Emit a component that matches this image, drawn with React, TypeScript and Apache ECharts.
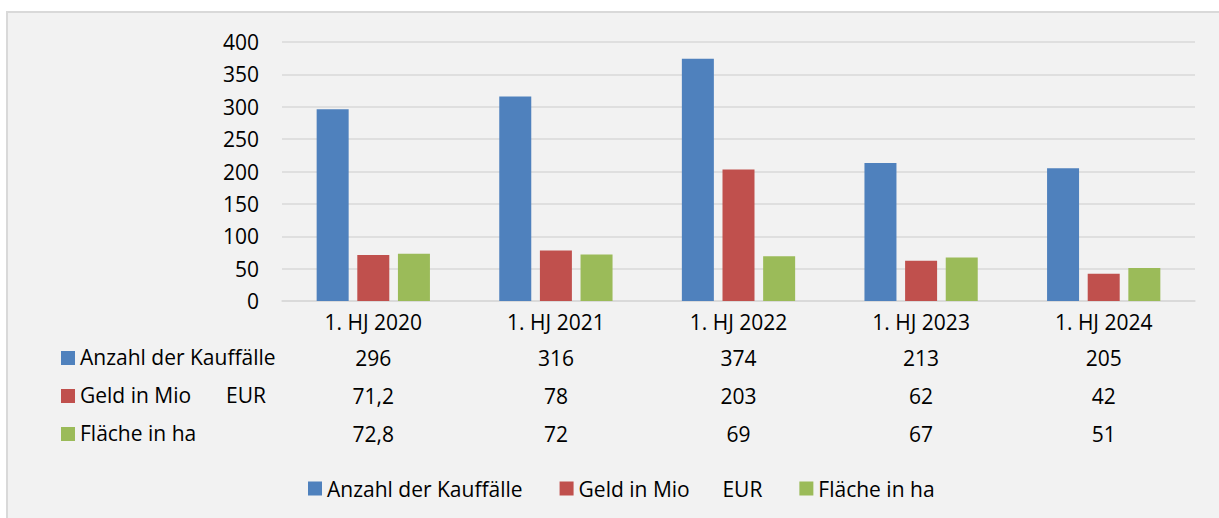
import React, { useEffect, useRef } from "react";
import * as echarts from "echarts";

const categories = ["1. HJ 2020", "1. HJ 2021", "1. HJ 2022", "1. HJ 2023", "1. HJ 2024"];
const anzahl = [296, 316, 374, 213, 205];
const geld = [71.2, 78, 203, 62, 42];
const flaeche = [72.8, 72, 69, 67, 51];
const seriesNames = ["Anzahl der Kauffälle", "Geld in Mio      EUR", "Fläche in ha"];
const tableRowLabels = [["Anzahl der Kauffälle"], ["Geld in Mio", "EUR"], ["Fläche in ha"]];
const colors = ["#4f81bd", "#c0504d", "#9bbb59"];
const yMin = 0;
const yMax = 400;
const yInterval = 50;

const FONT = "'Open Sans', sans-serif";
const fmt = (v: number) => String(v).replace(".", ",");

export default function App() {
  const ref = useRef<HTMLDivElement>(null);
  useEffect(() => {
    if (!ref.current) return;
    const chart = echarts.init(ref.current, undefined, { renderer: "svg" });
    const seriesData = [anzahl, geld, flaeche];
    const rowCenters = [357, 395, 433];
    const rowOffsets = [36, 74, 112];
    const labelStyle = { fontSize: 21, color: "#000", fontFamily: FONT, margin: 10 };

    const graphics: any[] = [
      {
        type: "rect",
        z: -100,
        silent: true,
        shape: { x: 7, y: 12, width: 1400, height: 700 },
        style: { fill: "#f2f2f2", stroke: "#d9d9d9", lineWidth: 2 },
      },
    ];
    tableRowLabels.forEach((parts, i) => {
      graphics.push({
        type: "rect",
        shape: { x: 61, y: rowCenters[i] - 6, width: 14, height: 14 },
        style: { fill: colors[i] },
      });
      const xs = [80, 226];
      parts.forEach((p, j) => {
        graphics.push({
          type: "text",
          x: xs[j],
          y: rowCenters[i],
          style: { text: p, fontSize: 21, fontFamily: FONT, fill: "#000", verticalAlign: "middle", align: "left" },
        });
      });
    });

    const xAxes: any[] = [
      {
        type: "category",
        data: categories,
        axisLine: { lineStyle: { color: "#d9d9d9", width: 1.5 } },
        axisTick: { show: false },
        axisLabel: labelStyle,
      },
    ];
    seriesData.forEach((vals, i) => {
      xAxes.push({
        type: "category",
        data: vals.map(fmt),
        position: "bottom",
        offset: rowOffsets[i],
        axisLine: { show: false },
        axisTick: { show: false },
        axisLabel: labelStyle,
      });
    });

    chart.setOption({
      animation: false,
      backgroundColor: "#ffffff",
      textStyle: { fontFamily: FONT },
      grid: { left: 282, right: 24, top: 42, bottom: 217, containLabel: false },
      graphic: graphics,
      legend: {
        top: 478,
        left: 308,
        padding: 0,
        icon: "rect",
        itemWidth: 14,
        itemHeight: 14,
        itemGap: 37,
        textStyle: { fontSize: 21, color: "#000", fontFamily: FONT },
        data: seriesNames,
      },
      xAxis: xAxes,
      yAxis: {
        type: "value",
        min: yMin,
        max: yMax,
        interval: yInterval,
        axisLine: { show: false },
        axisTick: { show: false },
        axisLabel: { fontSize: 21, color: "#000", fontFamily: FONT, margin: 23 },
        splitLine: { lineStyle: { color: "#d9d9d9", width: 1.5 } },
      },
      series: seriesData.map((vals, i) => ({
        type: "bar",
        name: seriesNames[i],
        data: vals,
        xAxisIndex: 0,
        barWidth: 32,
        barGap: "27%",
        itemStyle: { color: colors[i] },
      })),
    });
    return () => chart.dispose();
  }, []);
  return <div ref={ref} style={{ position: "fixed", left: 0, top: 0, width: 1219, height: 518 }} />;
}
